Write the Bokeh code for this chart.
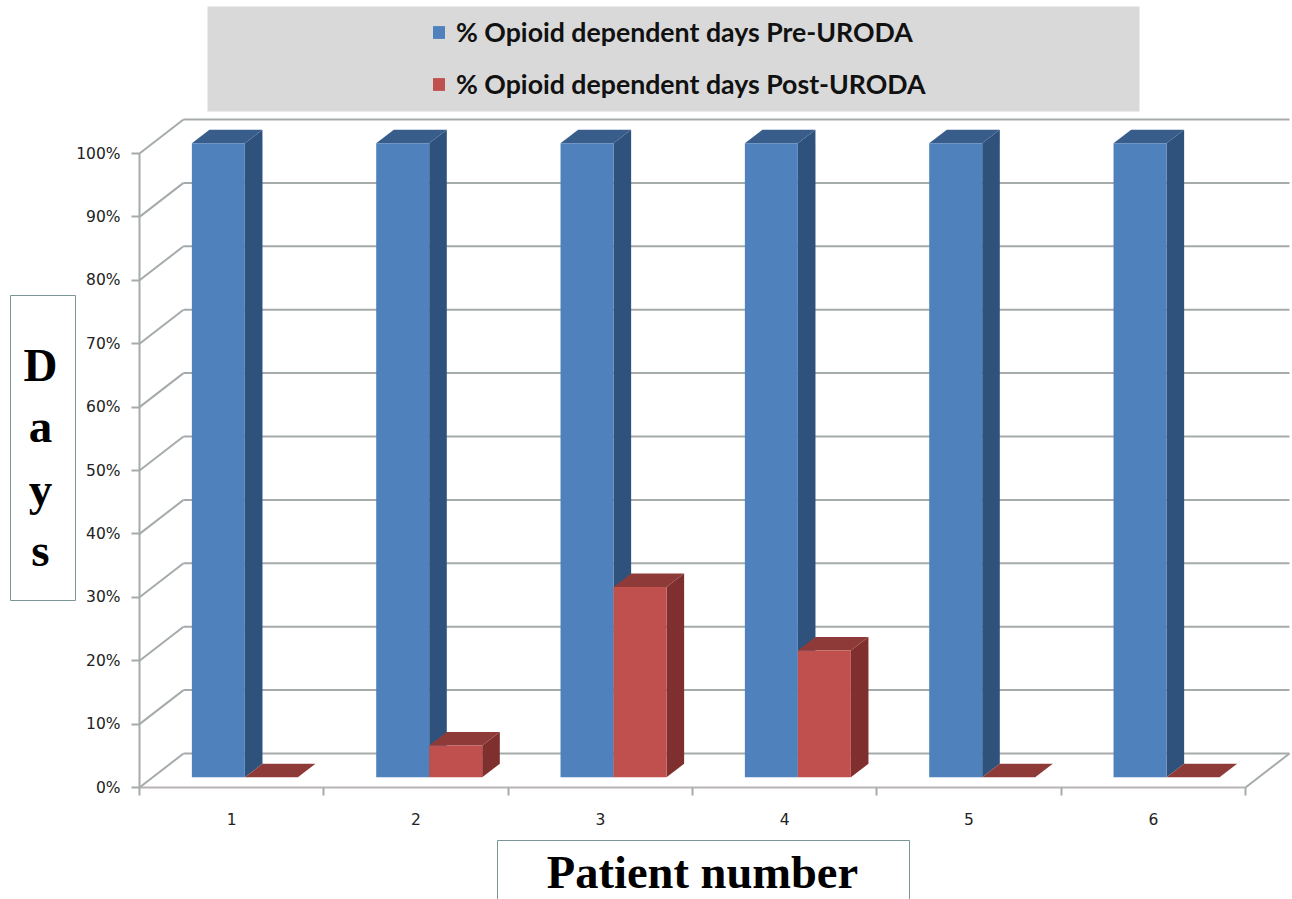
from bokeh.plotting import figure
from bokeh.models import (Range1d, FixedTicker, BoxAnnotation, Label, Legend, LegendItem)
from bokeh.core.properties import value
from bokeh.embed import file_html
from bokeh.resources import INLINE

# ---- data
patients = [1, 2, 3, 4, 5, 6]
pre_uroda = [100, 100, 100, 100, 100, 100]
post_uroda = [0, 5, 30, 20, 0, 0]
y_ticks = [0, 10, 20, 30, 40, 50, 60, 70, 80, 90, 100]
series_pre = "% Opioid dependent days Pre-URODA"
series_post = "% Opioid dependent days Post-URODA"
x_title = "Patient number"
y_title_letters = ["D", "a", "y", "s"]

# ---- page geometry (picture pixels)
FIG_W, FIG_H = 1292, 899
X0_PX, Y0_PX = 139, 787          # where x=0.5 / y=0 fall
CAT_PX = (1245 - 139) / 6
PCT_PX = (787 - 153) / 100

def dx(px):
    return 0.5 + (px - X0_PX) / CAT_PX

def dy(py):
    return (Y0_PX - py) / PCT_PX

# oblique depth of the floor, in data units
DEPTH_X = 44 / CAT_PX
DEPTH_Y = 34 / PCT_PX
D_FRONT, D_BACK = 0.3, 0.7
BAR_W = 53 / CAT_PX

def proj(x, y, d):
    return x + d * DEPTH_X, y + d * DEPTH_Y

p = figure(width=FIG_W, height=FIG_H, output_backend="svg", toolbar_location=None,
           x_range=Range1d(dx(0), dx(FIG_W)), y_range=Range1d(dy(FIG_H), dy(0)),
           min_border=0)
p.outline_line_color = None
p.xgrid.visible = False
p.ygrid.visible = False
p.background_fill_color = "white"

GRID = "#a5abaa"

# ---- legend panel and axis-title boxes
BOX = "#7a9696"
p.add_layout(BoxAnnotation(left=dx(207), right=dx(1139), top=dy(6), bottom=dy(111),
                           fill_color="#d9d9d9", fill_alpha=1, line_color=None, level="underlay"))
p.add_layout(BoxAnnotation(left=dx(10), right=dx(75), top=dy(295), bottom=dy(600),
                           fill_color="white", fill_alpha=1, line_color=BOX, line_alpha=1, line_width=1))
p.add_layout(BoxAnnotation(left=dx(497), right=dx(909), top=dy(840), bottom=dy(905),
                           fill_color="white", fill_alpha=1, line_color=BOX, line_alpha=1, line_width=1))

# ---- walls
wall_xs, wall_ys = [], []
for t in y_ticks:
    bx, by = proj(0.5, t, 1)
    rx, _ = proj(6.5, t, 1)
    wall_xs += [[0.5, bx], [bx, rx]]
    wall_ys += [[t, by], [by, by]]
bx, by = proj(6.5, 0, 1)
wall_xs.append([6.5, bx])
wall_ys.append([0, by])
p.multi_line(wall_xs, wall_ys, line_color=GRID, line_width=2)

# ---- bars
def faces(left, val):
    right = left + BAR_W
    x1, y1 = proj(left, val, D_FRONT)
    x2, _ = proj(right, val, D_FRONT)
    _, y0 = proj(left, 0, D_FRONT)
    bx1, by1 = proj(left, val, D_BACK)
    bx2, _ = proj(right, val, D_BACK)
    _, by0 = proj(left, 0, D_BACK)
    front = ([x1, x2, x2, x1], [y0, y0, y1, y1])
    top = ([x1, x2, bx2, bx1], [y1, y1, by1, by1])
    side = ([x2, bx2, bx2, x2], [y0, by0, by1, y1])
    return front, top, side

def draw_series(vals, offset, c_front, c_top, c_side):
    fr, tp, sd = zip(*[faces(c + offset, v) for c, v in zip(patients, vals)])
    p.patches([f[0] for f in sd], [f[1] for f in sd], fill_color=c_side, line_color=None)
    p.patches([f[0] for f in tp], [f[1] for f in tp], fill_color=c_top, line_color=None)
    return p.patches([f[0] for f in fr], [f[1] for f in fr], fill_color=c_front, line_color=None)

r_pre = draw_series(pre_uroda, -BAR_W, "#4f81bd", "#385d8a", "#2f527c")
r_post = draw_series(post_uroda, 0, "#c0504d", "#8e3a38", "#7f2f2d")

# ---- axes
ya = p.yaxis[0]
ya.fixed_location = 0.5
ya.ticker = FixedTicker(ticks=y_ticks)
ya.major_label_overrides = {t: f"{t}%" for t in y_ticks}
ya.bounds = (0, 100)
ya.axis_line_color = GRID
ya.axis_line_width = 2
ya.major_tick_line_color = GRID
ya.major_tick_line_width = 2
ya.major_tick_out = 8
ya.major_tick_in = 0
ya.minor_tick_out = 0
ya.minor_tick_in = 0
ya.major_label_text_font = "DejaVu Sans"
ya.major_label_text_font_size = "15.5px"
ya.major_label_text_color = "#222222"
ya.major_label_standoff = 11

xa = p.xaxis[0]
xa.fixed_location = 0
xa.ticker = FixedTicker(ticks=patients, minor_ticks=[0.5, 1.5, 2.5, 3.5, 4.5, 5.5, 6.5])
xa.bounds = (0.5, 6.5)
xa.axis_line_color = "#b8b4b4"
xa.axis_line_width = 2
xa.major_tick_out = 0
xa.major_tick_in = 0
xa.minor_tick_out = 8
xa.minor_tick_in = 0
xa.minor_tick_line_color = GRID
xa.minor_tick_line_width = 2
xa.major_label_text_font = "DejaVu Sans"
xa.major_label_text_font_size = "15.5px"
xa.major_label_text_color = "#222222"
xa.major_label_standoff = 17

# ---- legend
legend = Legend(items=[LegendItem(label=value(series_pre), renderers=[r_pre]),
                       LegendItem(label=value(series_post), renderers=[r_post])],
                location=(431, FIG_H - 100), orientation="vertical",
                background_fill_alpha=0, border_line_color=None, padding=0, margin=0,
                glyph_width=15, glyph_height=16, label_standoff=10, spacing=20,
                label_height=22, label_text_font="Lato", label_text_font_style="bold",
                label_text_font_size="26.7px", label_text_color="#111111")
p.add_layout(legend)

# ---- axis titles
for letter, py in zip(y_title_letters, [364, 425, 488, 549]):
    p.add_layout(Label(x=dx(40), y=dy(py), text=letter, text_font="Liberation Serif",
                       text_font_style="bold", text_font_size="47px", text_color="black",
                       text_align="center", text_baseline="middle"))
p.add_layout(Label(x=dx(702), y=dy(872), text=x_title, text_font="Liberation Serif",
                   text_font_style="bold", text_font_size="46.5px", text_color="black",
                   text_align="center", text_baseline="middle"))

open("out.html", "w").write(file_html(p, INLINE))
